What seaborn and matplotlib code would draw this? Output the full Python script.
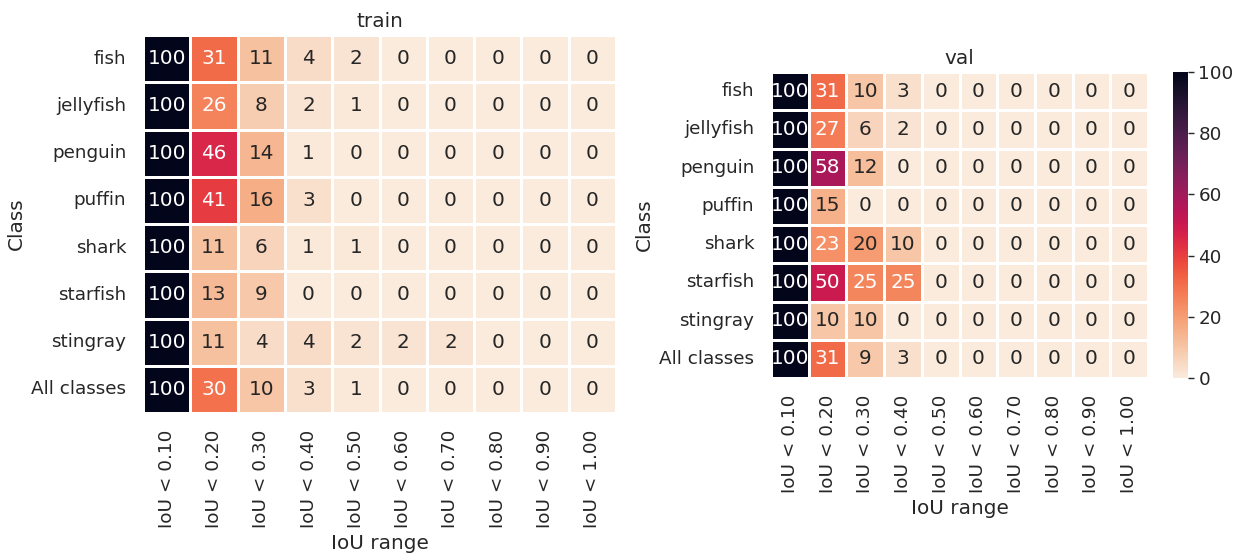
import numpy as np
import pandas as pd
import matplotlib
matplotlib.use("Agg")
from matplotlib import pyplot as plt
import seaborn as sns

# classes and IoU bins
classes = ["fish", "jellyfish", "penguin", "puffin", "shark", "starfish", "stingray", "All classes"]
iou_bins = ["IoU < 0.10", "IoU < 0.20", "IoU < 0.30", "IoU < 0.40", "IoU < 0.50",
            "IoU < 0.60", "IoU < 0.70", "IoU < 0.80", "IoU < 0.90", "IoU < 1.00"]

# percentage of detections per class and IoU bin
train_fish = [100, 31, 11, 4, 2, 0, 0, 0, 0, 0]
train_jellyfish = [100, 26, 8, 2, 1, 0, 0, 0, 0, 0]
train_penguin = [100, 46, 14, 1, 0, 0, 0, 0, 0, 0]
train_puffin = [100, 41, 16, 3, 0, 0, 0, 0, 0, 0]
train_shark = [100, 11, 6, 1, 1, 0, 0, 0, 0, 0]
train_starfish = [100, 13, 9, 0, 0, 0, 0, 0, 0, 0]
train_stingray = [100, 11, 4, 4, 2, 2, 2, 0, 0, 0]
train_all = [100, 30, 10, 3, 1, 0, 0, 0, 0, 0]

val_fish = [100, 31, 10, 3, 0, 0, 0, 0, 0, 0]
val_jellyfish = [100, 27, 6, 2, 0, 0, 0, 0, 0, 0]
val_penguin = [100, 58, 12, 0, 0, 0, 0, 0, 0, 0]
val_puffin = [100, 15, 0, 0, 0, 0, 0, 0, 0, 0]
val_shark = [100, 23, 20, 10, 0, 0, 0, 0, 0, 0]
val_starfish = [100, 50, 25, 25, 0, 0, 0, 0, 0, 0]
val_stingray = [100, 10, 10, 0, 0, 0, 0, 0, 0, 0]
val_all = [100, 31, 9, 3, 0, 0, 0, 0, 0, 0]

train_df = pd.DataFrame([train_fish, train_jellyfish, train_penguin, train_puffin,
                         train_shark, train_starfish, train_stingray, train_all],
                        index=classes, columns=iou_bins)
val_df = pd.DataFrame([val_fish, val_jellyfish, val_penguin, val_puffin,
                       val_shark, val_starfish, val_stingray, val_all],
                      index=classes, columns=iou_bins)

sns.set_theme(style="white", font_scale=1.2)

fig = plt.figure(figsize=(12.45, 5.54), dpi=100)
W, H = 1245, 554
ax1 = fig.add_axes([143 / W, 1 - 413 / H, (616 - 143) / W, (413 - 35) / H])
ax2 = fig.add_axes([771 / W, 1 - 378 / H, (1148 - 771) / W, (378 - 72) / H])
cax = fig.add_axes([1173 / W, 1 - 378 / H, 15 / W, (378 - 72) / H])

sns.heatmap(train_df, ax=ax1, cmap="rocket_r", vmin=0, vmax=100, annot=True, fmt="d",
            linewidths=1, linecolor="white", cbar=False)
sns.heatmap(val_df, ax=ax2, cmap="rocket_r", vmin=0, vmax=100, annot=True, fmt="d",
            linewidths=1, linecolor="white", cbar_ax=cax)

for ax, title in [(ax1, "train"), (ax2, "val")]:
    ax.set_title(title)
    ax.set_xlabel("IoU range")
    ax.set_ylabel("Class")
    plt.setp(ax.get_yticklabels(), rotation=0)
    plt.setp(ax.get_xticklabels(), rotation=90)
    ax.tick_params(axis="both", length=0, pad=12)

cax.tick_params(length=4, width=1, color="#262626")
cax.set_yticks([0, 20, 40, 60, 80, 100])

fig.savefig("out.png", dpi=100)
